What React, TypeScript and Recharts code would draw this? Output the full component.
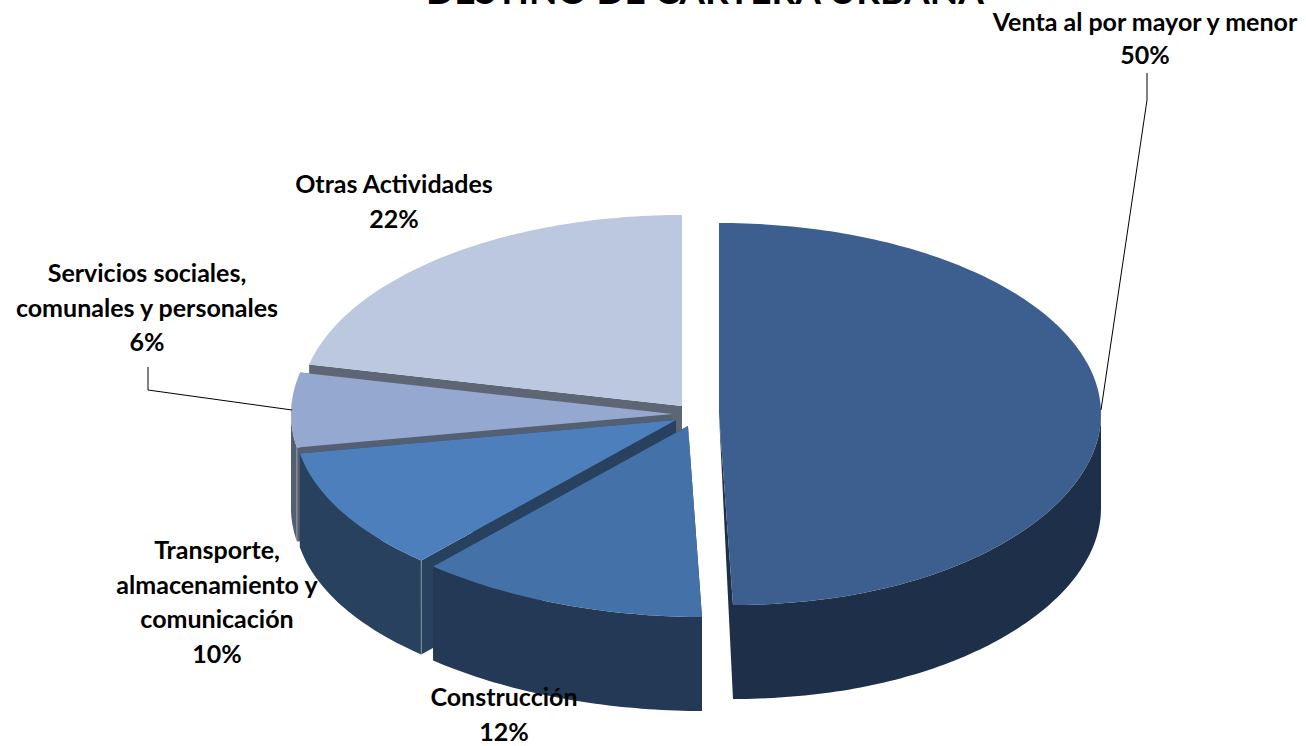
import { PieChart, Pie } from "recharts";

// drawn back to front, so the order runs counter-clockwise from the top
const names = [
    "Otras Actividades",
    "Servicios sociales, comunales y personales",
    "Transporte, almacenamiento y comunicación",
    "Construcción",
    "Venta al por mayor y menor",
];
const values = [21.52, 6.28, 10.35, 11.85, 50];
const topColors = ["#BBC8E0", "#94A8D0", "#4D7FBC", "#4472A8", "#3C5F8F"];
const wallColors = ["#5E6675", "#555F72", "#28415F", "#243955", "#1E3049"];
const labelLines = [
    ["Otras Actividades"],
    ["Servicios sociales,", "comunales y personales"],
    ["Transporte,", "almacenamiento y", "comunicación"],
    ["Construcción"],
    ["Venta al por mayor y menor"],
];

const table = names.map((name, i) => ({ name, value: values[i], fill: topColors[i] }));

const WIDTH = 1306;
const HEIGHT = 746;
const CX = 682;
const CY = 406;
const RX = 382;
const RY = 191;
const DEPTH = 94;
const LEAN = 14; // the near rim sits a little to the right, as in the perspective view
const FONT = "Lato, Carlito, Calibri, sans-serif";

// how far each slice is pulled out of the pie
const explode = [
    [0, 0],
    [-9, 8],
    [-6, 14],
    [6, 20],
    [37, 8],
];
const labelPos = [
    { x: 394, y: 193, step: 35 },
    { x: 147, y: 282, step: 34.5 },
    { x: 217, y: 559, step: 34.7 },
    { x: 504, y: 706, step: 35 },
    { x: 1145, y: 31, step: 32.5 },
];
const leaders: Record<number, number[][]> = {
    1: [[292, 410], [148, 390], [148, 367]],
    4: [[1101, 410], [1147, 100], [1147, 73]],
};

function leanAt(deg: number) {
    const s = Math.sin((deg * Math.PI) / 180);
    return s < 0 ? LEAN * s ** 4 : 0;
}

function rim(cx: number, cy: number, deg: number) {
    const a = (deg * Math.PI) / 180;
    return [cx + RX * Math.cos(a) + leanAt(deg), cy - RY * Math.sin(a)];
}

function toPath(pts: number[][]) {
    return "M" + pts.map((p) => `${p[0].toFixed(1)},${p[1].toFixed(1)}`).join("L") + "Z";
}

function arc(cx: number, cy: number, from: number, to: number) {
    const pts: number[][] = [];
    const n = Math.max(2, Math.ceil(to - from));
    for (let k = 0; k <= n; k++) pts.push(rim(cx, cy, from + ((to - from) * k) / n));
    return pts;
}

function Slice3D(props: any) {
    const i = names.indexOf(props.name ?? props.payload?.name);
    const { startAngle, endAngle, fill } = props;
    const cx = props.cx + explode[i][0];
    const cy = props.cy + explode[i][1];
    const wall = wallColors[i];

    const face = (deg: number) => {
        const p = rim(cx, cy, deg);
        const foot = cx + (leanAt(deg) * DEPTH) / (RY + DEPTH);
        return toPath([[cx, cy], p, [p[0], p[1] + DEPTH], [foot, cy + DEPTH]]);
    };

    // front part of the rim only (180..360 degrees)
    const from = Math.max(startAngle, 180);
    const to = Math.min(endAngle, 360);
    let wallPath = "";
    let seam = null;
    if (to > from) {
        const upper = arc(cx, cy, from, to);
        const lower = upper.map((p) => [p[0], p[1] + DEPTH]).reverse();
        wallPath = toPath([...upper, ...lower]);
    }
    if (endAngle > 180 && endAngle < 260) {
        const p = rim(cx, cy, endAngle);
        seam = <line x1={p[0]} y1={p[1]} x2={p[0]} y2={p[1] + DEPTH} stroke="#fff" strokeOpacity={0.35} />;
    }

    const top = toPath([[cx, cy], ...arc(cx, cy, startAngle, endAngle)]);
    return (
        <g>
            <path d={face(startAngle)} fill={wall} />
            <path d={face(endAngle)} fill={wall} />
            {wallPath && <path d={wallPath} fill={wall} />}
            {seam}
            <path d={top} fill={fill} />
        </g>
    );
}

function renderLabel(props: any) {
    const i = props.index;
    const lines = [...labelLines[i], `${Math.round(props.percent * 100)}%`];
    const pos = labelPos[i];
    return (
        <g key={names[i]}>
            {leaders[i] && (
                <polyline
                    points={leaders[i].map((p) => p.join(",")).join(" ")}
                    fill="none"
                    stroke="#000"
                    strokeWidth={1}
                />
            )}
            {lines.map((line, k) => (
                <text
                    key={line}
                    x={pos.x}
                    y={pos.y + k * pos.step}
                    textAnchor="middle"
                    fontFamily={FONT}
                    fontWeight={700}
                    fontSize={25}
                    fill="#000"
                >
                    {line}
                </text>
            ))}
        </g>
    );
}

export default function App() {
    return (
        <div style={{ position: "absolute", left: 0, top: 0, width: WIDTH, height: HEIGHT, background: "#fff" }}>
            <PieChart width={WIDTH} height={HEIGHT} margin={{ top: 0, right: 0, bottom: 0, left: 0 }}>
                <text
                    x={705}
                    y={4}
                    textAnchor="middle"
                    fontFamily={FONT}
                    fontWeight={700}
                    fontSize={37}
                    fill="#000"
                >
                    DESTINO DE CARTERA URBANA
                </text>
                <Pie
                    data={table}
                    dataKey="value"
                    nameKey="name"
                    cx={CX}
                    cy={CY}
                    innerRadius={0}
                    outerRadius={RX}
                    startAngle={90}
                    endAngle={450}
                    stroke="none"
                    shape={Slice3D}
                    label={renderLabel}
                    labelLine={false}
                    isAnimationActive={false}
                />
            </PieChart>
        </div>
    );
}
